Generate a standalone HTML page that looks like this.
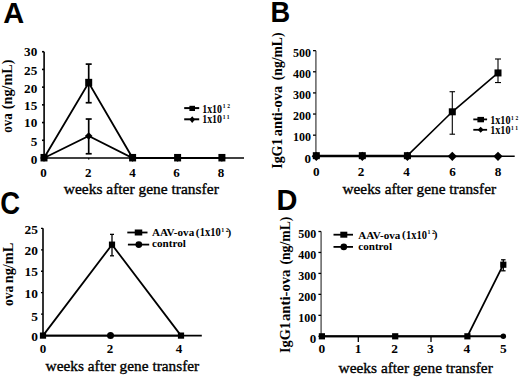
<!DOCTYPE html>
<html><head><meta charset="utf-8"><style>
html,body{margin:0;padding:0;background:#fff;width:520px;height:377px;overflow:hidden}
svg{display:block}
text{fill:#000}
</style></head><body>
<svg width="520" height="377" viewBox="0 0 520 377">
<rect width="520" height="377" fill="#fff"/>
<text id="tA" x="3.30" y="22.60" font-family='"Liberation Sans", sans-serif' font-size="29" font-weight="bold" text-anchor="start">A</text>
<line x1="44.10" y1="51.71" x2="44.10" y2="158.80" stroke="#000" stroke-width="1.6"/>
<line x1="42.00" y1="158.00" x2="44.10" y2="158.00" stroke="#000" stroke-width="1.6"/>
<text x="37.30" y="163.65" font-family='"Liberation Serif", serif' font-size="13.2" font-weight="bold" text-anchor="end">0</text>
<line x1="42.00" y1="140.28" x2="44.10" y2="140.28" stroke="#000" stroke-width="1.6"/>
<text x="37.30" y="145.75" font-family='"Liberation Serif", serif' font-size="13.2" font-weight="bold" text-anchor="end">5</text>
<line x1="42.00" y1="122.57" x2="44.10" y2="122.57" stroke="#000" stroke-width="1.6"/>
<text x="37.30" y="127.35" font-family='"Liberation Serif", serif' font-size="13.2" font-weight="bold" text-anchor="end">10</text>
<line x1="42.00" y1="104.85" x2="44.10" y2="104.85" stroke="#000" stroke-width="1.6"/>
<text x="37.30" y="110.05" font-family='"Liberation Serif", serif' font-size="13.2" font-weight="bold" text-anchor="end">15</text>
<line x1="42.00" y1="87.14" x2="44.10" y2="87.14" stroke="#000" stroke-width="1.6"/>
<text x="37.30" y="92.75" font-family='"Liberation Serif", serif' font-size="13.2" font-weight="bold" text-anchor="end">20</text>
<line x1="42.00" y1="69.42" x2="44.10" y2="69.42" stroke="#000" stroke-width="1.6"/>
<text x="37.30" y="74.55" font-family='"Liberation Serif", serif' font-size="13.2" font-weight="bold" text-anchor="end">25</text>
<line x1="42.00" y1="51.71" x2="44.10" y2="51.71" stroke="#000" stroke-width="1.6"/>
<text x="37.30" y="56.35" font-family='"Liberation Serif", serif' font-size="13.2" font-weight="bold" text-anchor="end">30</text>
<line x1="44.10" y1="158.00" x2="244.00" y2="158.00" stroke="#000" stroke-width="1.5"/>
<line x1="44.00" y1="158.00" x2="44.00" y2="159.50" stroke="#000" stroke-width="1.3"/>
<text x="43.60" y="176.50" font-family='"Liberation Serif", serif' font-size="13" font-weight="bold" text-anchor="middle">0</text>
<line x1="88.70" y1="158.00" x2="88.70" y2="159.50" stroke="#000" stroke-width="1.3"/>
<text x="88.30" y="176.50" font-family='"Liberation Serif", serif' font-size="13" font-weight="bold" text-anchor="middle">2</text>
<line x1="132.60" y1="158.00" x2="132.60" y2="159.50" stroke="#000" stroke-width="1.3"/>
<text x="132.40" y="176.50" font-family='"Liberation Serif", serif' font-size="13" font-weight="bold" text-anchor="middle">4</text>
<line x1="177.60" y1="158.00" x2="177.60" y2="159.50" stroke="#000" stroke-width="1.3"/>
<text x="176.40" y="176.50" font-family='"Liberation Serif", serif' font-size="13" font-weight="bold" text-anchor="middle">6</text>
<line x1="221.90" y1="158.00" x2="221.90" y2="159.50" stroke="#000" stroke-width="1.3"/>
<text x="221.10" y="176.50" font-family='"Liberation Serif", serif' font-size="13" font-weight="bold" text-anchor="middle">8</text>
<text id="tAy0" x="0.00" y="0.00" font-family='"Liberation Serif", serif' font-size="13.8" font-weight="bold" text-anchor="start" textLength="19.44" lengthAdjust="spacingAndGlyphs" transform="translate(12.30 132.80) rotate(-90)">ova</text>
<text id="tAy1" x="0.00" y="0.00" font-family='"Liberation Serif", serif' font-size="13.8" font-weight="bold" text-anchor="start" textLength="49.61" lengthAdjust="spacingAndGlyphs" transform="translate(12.30 109.20) rotate(-90)">(ng/mL)</text>
<text id="tAx" x="63.80" y="193.50" font-family='"Liberation Serif", serif' font-size="15.2" font-weight="normal" text-anchor="start" textLength="155.00" lengthAdjust="spacingAndGlyphs" stroke="#000" stroke-width="0.35">weeks after gene transfer</text>
<line x1="88.70" y1="153.75" x2="88.70" y2="119.03" stroke="#000" stroke-width="1.7"/>
<line x1="85.70" y1="153.75" x2="91.70" y2="153.75" stroke="#000" stroke-width="1.7"/>
<line x1="85.70" y1="119.03" x2="91.70" y2="119.03" stroke="#000" stroke-width="1.7"/>
<polyline points="44.00,158.00 88.70,136.03 132.60,158.00 177.60,158.00 221.90,158.00" fill="none" stroke="#000" stroke-width="1.8" stroke-linejoin="miter"/>
<polygon points="44.00,154.20 47.80,158.00 44.00,161.80 40.20,158.00" fill="#000"/>
<polygon points="88.70,132.23 92.50,136.03 88.70,139.83 84.90,136.03" fill="#000"/>
<polygon points="132.60,154.20 136.40,158.00 132.60,161.80 128.80,158.00" fill="#000"/>
<polygon points="177.60,154.20 181.40,158.00 177.60,161.80 173.80,158.00" fill="#000"/>
<polygon points="221.90,154.20 225.70,158.00 221.90,161.80 218.10,158.00" fill="#000"/>
<line x1="88.70" y1="102.73" x2="88.70" y2="64.11" stroke="#000" stroke-width="1.7"/>
<line x1="85.70" y1="102.73" x2="91.70" y2="102.73" stroke="#000" stroke-width="1.7"/>
<line x1="85.70" y1="64.11" x2="91.70" y2="64.11" stroke="#000" stroke-width="1.7"/>
<polyline points="44.00,158.00 88.70,82.89 132.60,158.00 177.60,158.00 221.90,158.00" fill="none" stroke="#000" stroke-width="1.8" stroke-linejoin="miter"/>
<rect x="40.50" y="153.95" width="7" height="7.5" fill="#000"/>
<rect x="85.20" y="78.84" width="7" height="7.5" fill="#000"/>
<rect x="129.10" y="153.95" width="7" height="7.5" fill="#000"/>
<rect x="174.10" y="153.95" width="7" height="7.5" fill="#000"/>
<rect x="218.40" y="153.95" width="7" height="7.5" fill="#000"/>
<line x1="184.20" y1="108.10" x2="199.20" y2="108.10" stroke="#000" stroke-width="2.0"/>
<rect x="189.40" y="105.80" width="5.6" height="5.2" fill="#000"/>
<line x1="184.20" y1="119.30" x2="199.20" y2="119.30" stroke="#000" stroke-width="2.0"/>
<polygon points="192.20,116.30 195.00,119.60 192.20,122.90 189.40,119.60" fill="#000"/>
<text id="tAl1" x="202.20" y="112.50" font-family='"Liberation Serif", serif' font-size="11.8" font-weight="bold" text-anchor="start" textLength="19.80" lengthAdjust="spacingAndGlyphs">1x10</text>
<text id="tAl2" x="202.20" y="123.20" font-family='"Liberation Serif", serif' font-size="11.8" font-weight="bold" text-anchor="start" textLength="19.80" lengthAdjust="spacingAndGlyphs">1x10</text>
<text x="222.70" y="108.40" font-family='"Liberation Serif", serif' font-size="5.5" font-weight="bold" text-anchor="start">1<tspan dx="1.7">2</tspan></text>
<text x="222.70" y="119.10" font-family='"Liberation Serif", serif' font-size="5.5" font-weight="bold" text-anchor="start">1<tspan dx="1.7">1</tspan></text>
<text id="tB" x="0.00" y="0.00" font-family='"Liberation Sans", sans-serif' font-size="29" font-weight="bold" text-anchor="start" transform="translate(270.50 21.50) scale(0.94 1)">B</text>
<line x1="315.90" y1="50.65" x2="315.90" y2="157.05" stroke="#555" stroke-width="1.4"/>
<line x1="313.00" y1="156.30" x2="315.90" y2="156.30" stroke="#000" stroke-width="1.3"/>
<text x="311.00" y="162.60" font-family='"Liberation Serif", serif' font-size="13" font-weight="bold" text-anchor="end">0</text>
<line x1="313.00" y1="135.17" x2="315.90" y2="135.17" stroke="#000" stroke-width="1.3"/>
<text x="311.00" y="141.47" font-family='"Liberation Serif", serif' font-size="13" font-weight="bold" text-anchor="end" textLength="18.00" lengthAdjust="spacingAndGlyphs">100</text>
<line x1="313.00" y1="114.04" x2="315.90" y2="114.04" stroke="#000" stroke-width="1.3"/>
<text x="311.00" y="120.34" font-family='"Liberation Serif", serif' font-size="13" font-weight="bold" text-anchor="end" textLength="18.00" lengthAdjust="spacingAndGlyphs">200</text>
<line x1="313.00" y1="92.91" x2="315.90" y2="92.91" stroke="#000" stroke-width="1.3"/>
<text x="311.00" y="99.21" font-family='"Liberation Serif", serif' font-size="13" font-weight="bold" text-anchor="end" textLength="18.00" lengthAdjust="spacingAndGlyphs">300</text>
<line x1="313.00" y1="71.78" x2="315.90" y2="71.78" stroke="#000" stroke-width="1.3"/>
<text x="311.00" y="78.08" font-family='"Liberation Serif", serif' font-size="13" font-weight="bold" text-anchor="end" textLength="18.00" lengthAdjust="spacingAndGlyphs">400</text>
<line x1="313.00" y1="50.65" x2="315.90" y2="50.65" stroke="#000" stroke-width="1.3"/>
<text x="311.00" y="56.95" font-family='"Liberation Serif", serif' font-size="13" font-weight="bold" text-anchor="end" textLength="18.00" lengthAdjust="spacingAndGlyphs">500</text>
<line x1="315.60" y1="156.30" x2="514.70" y2="156.30" stroke="#000" stroke-width="1.4"/>
<text x="316.30" y="175.90" font-family='"Liberation Serif", serif' font-size="13.2" font-weight="bold" text-anchor="middle">0</text>
<text x="361.00" y="175.90" font-family='"Liberation Serif", serif' font-size="13.2" font-weight="bold" text-anchor="middle">2</text>
<text x="406.50" y="175.90" font-family='"Liberation Serif", serif' font-size="13.2" font-weight="bold" text-anchor="middle">4</text>
<text x="452.60" y="175.90" font-family='"Liberation Serif", serif' font-size="13.2" font-weight="bold" text-anchor="middle">6</text>
<text x="498.00" y="175.90" font-family='"Liberation Serif", serif' font-size="13.2" font-weight="bold" text-anchor="middle">8</text>
<text id="tBy0" x="0.00" y="0.00" font-family='"Liberation Serif", serif' font-size="13.8" font-weight="bold" text-anchor="start" textLength="30.25" lengthAdjust="spacingAndGlyphs" transform="translate(281.50 168.80) rotate(-90)">IgG1</text>
<text id="tBy1" x="0.00" y="0.00" font-family='"Liberation Serif", serif' font-size="13.8" font-weight="bold" text-anchor="start" textLength="50.42" lengthAdjust="spacingAndGlyphs" transform="translate(281.50 136.20) rotate(-90)">anti-ova</text>
<text id="tBy2" x="0.00" y="0.00" font-family='"Liberation Serif", serif' font-size="13.8" font-weight="bold" text-anchor="start" textLength="47.62" lengthAdjust="spacingAndGlyphs" transform="translate(281.50 80.20) rotate(-90)">(ng/mL)</text>
<text id="tBx" x="342.50" y="193.80" font-family='"Liberation Serif", serif' font-size="15.2" font-weight="normal" text-anchor="start" textLength="153.60" lengthAdjust="spacingAndGlyphs" stroke="#000" stroke-width="0.35">weeks after gene transfer</text>
<polyline points="316.30,156.30 362.30,156.30 407.40,156.30 452.30,156.30 498.00,156.30" fill="none" stroke="#000" stroke-width="1.8" stroke-linejoin="miter"/>
<polygon points="316.30,151.70 320.90,156.30 316.30,160.90 311.70,156.30" fill="#000"/>
<polygon points="362.30,151.70 366.90,156.30 362.30,160.90 357.70,156.30" fill="#000"/>
<polygon points="407.40,151.70 412.00,156.30 407.40,160.90 402.80,156.30" fill="#000"/>
<polygon points="452.30,151.70 456.90,156.30 452.30,160.90 447.70,156.30" fill="#000"/>
<polygon points="498.00,151.70 502.60,156.30 498.00,160.90 493.40,156.30" fill="#000"/>
<line x1="452.30" y1="134.20" x2="452.30" y2="91.71" stroke="#000" stroke-width="1.1"/>
<line x1="449.55" y1="134.20" x2="455.05" y2="134.20" stroke="#000" stroke-width="1.1"/>
<line x1="449.55" y1="91.71" x2="455.05" y2="91.71" stroke="#000" stroke-width="1.1"/>
<line x1="498.00" y1="82.56" x2="498.00" y2="59.00" stroke="#000" stroke-width="1.1"/>
<line x1="495.00" y1="82.56" x2="501.00" y2="82.56" stroke="#000" stroke-width="1.1"/>
<line x1="495.00" y1="59.00" x2="501.00" y2="59.00" stroke="#000" stroke-width="1.1"/>
<polyline points="316.30,155.67 362.30,155.67 407.40,155.67 452.30,111.80 498.00,72.94" fill="none" stroke="#000" stroke-width="1.6" stroke-linejoin="miter"/>
<rect x="312.80" y="152.17" width="7" height="7" fill="#000"/>
<rect x="358.80" y="152.17" width="7" height="7" fill="#000"/>
<rect x="403.90" y="152.17" width="7" height="7" fill="#000"/>
<rect x="448.80" y="108.30" width="7" height="7" fill="#000"/>
<rect x="494.50" y="69.44" width="7" height="7" fill="#000"/>
<line x1="473.30" y1="119.40" x2="487.10" y2="119.40" stroke="#000" stroke-width="1.8"/>
<rect x="477.40" y="116.90" width="6.6" height="5.4" fill="#000"/>
<line x1="473.30" y1="129.80" x2="487.10" y2="129.80" stroke="#000" stroke-width="1.8"/>
<polygon points="480.70,126.80 483.70,129.80 480.70,132.80 477.70,129.80" fill="#000"/>
<text id="tBl1" x="490.20" y="123.50" font-family='"Liberation Serif", serif' font-size="11.8" font-weight="bold" text-anchor="start" textLength="20.30" lengthAdjust="spacingAndGlyphs">1x10</text>
<text id="tBl2" x="490.20" y="133.90" font-family='"Liberation Serif", serif' font-size="11.8" font-weight="bold" text-anchor="start" textLength="20.30" lengthAdjust="spacingAndGlyphs">1x10</text>
<text x="511.00" y="119.50" font-family='"Liberation Serif", serif' font-size="5.5" font-weight="bold" text-anchor="start">1<tspan dx="1.7">2</tspan></text>
<text x="511.00" y="129.90" font-family='"Liberation Serif", serif' font-size="5.5" font-weight="bold" text-anchor="start">1<tspan dx="1.7">1</tspan></text>
<text id="tC" x="0.00" y="0.00" font-family='"Liberation Sans", sans-serif' font-size="30.5" font-weight="bold" text-anchor="start" transform="translate(0.30 213.50) scale(0.9 1)">C</text>
<line x1="43.00" y1="228.35" x2="43.00" y2="336.35" stroke="#000" stroke-width="1.6"/>
<line x1="41.00" y1="335.60" x2="43.00" y2="335.60" stroke="#000" stroke-width="1.3"/>
<text x="38.00" y="341.20" font-family='"Liberation Serif", serif' font-size="13.4" font-weight="bold" text-anchor="end">0</text>
<line x1="41.00" y1="314.15" x2="43.00" y2="314.15" stroke="#000" stroke-width="1.3"/>
<text x="38.00" y="320.50" font-family='"Liberation Serif", serif' font-size="13.4" font-weight="bold" text-anchor="end">5</text>
<line x1="41.00" y1="292.70" x2="43.00" y2="292.70" stroke="#000" stroke-width="1.3"/>
<text x="38.00" y="298.40" font-family='"Liberation Serif", serif' font-size="13.4" font-weight="bold" text-anchor="end">10</text>
<line x1="41.00" y1="271.25" x2="43.00" y2="271.25" stroke="#000" stroke-width="1.3"/>
<text x="38.00" y="276.40" font-family='"Liberation Serif", serif' font-size="13.4" font-weight="bold" text-anchor="end">15</text>
<line x1="41.00" y1="249.80" x2="43.00" y2="249.80" stroke="#000" stroke-width="1.3"/>
<text x="38.00" y="254.90" font-family='"Liberation Serif", serif' font-size="13.4" font-weight="bold" text-anchor="end">20</text>
<line x1="41.00" y1="228.35" x2="43.00" y2="228.35" stroke="#000" stroke-width="1.3"/>
<text x="38.00" y="234.00" font-family='"Liberation Serif", serif' font-size="13.4" font-weight="bold" text-anchor="end">25</text>
<line x1="43.00" y1="335.60" x2="201.80" y2="335.60" stroke="#000" stroke-width="1.6"/>
<text x="43.00" y="352.80" font-family='"Liberation Serif", serif' font-size="13" font-weight="bold" text-anchor="middle">0</text>
<text x="110.00" y="352.80" font-family='"Liberation Serif", serif' font-size="13" font-weight="bold" text-anchor="middle">2</text>
<text x="179.00" y="352.80" font-family='"Liberation Serif", serif' font-size="13" font-weight="bold" text-anchor="middle">4</text>
<text id="tCy0" x="0.00" y="0.00" font-family='"Liberation Serif", serif' font-size="13.8" font-weight="bold" text-anchor="start" textLength="20.28" lengthAdjust="spacingAndGlyphs" transform="translate(12.90 306.00) rotate(-90)">ova</text>
<text id="tCy1" x="0.00" y="0.00" font-family='"Liberation Serif", serif' font-size="13.8" font-weight="bold" text-anchor="start" textLength="40.43" lengthAdjust="spacingAndGlyphs" transform="translate(12.90 283.20) rotate(-90)">ng/mL</text>
<text id="tCx" x="45.60" y="370.50" font-family='"Liberation Serif", serif' font-size="15.2" font-weight="normal" text-anchor="start" textLength="153.60" lengthAdjust="spacingAndGlyphs" stroke="#000" stroke-width="0.35">weeks after gene transfer</text>
<polyline points="43.00,335.60 110.50,335.60 181.00,335.60" fill="none" stroke="#000" stroke-width="1.8" stroke-linejoin="miter"/>
<circle cx="110.50" cy="335.60" r="3.5" fill="#000"/>
<line x1="112.00" y1="255.81" x2="112.00" y2="234.36" stroke="#000" stroke-width="1.3"/>
<line x1="110.00" y1="255.81" x2="114.00" y2="255.81" stroke="#000" stroke-width="1.3"/>
<line x1="110.00" y1="234.36" x2="114.00" y2="234.36" stroke="#000" stroke-width="1.3"/>
<polyline points="43.00,335.60 112.00,244.65 181.00,335.60" fill="none" stroke="#000" stroke-width="1.8" stroke-linejoin="miter"/>
<rect x="39.90" y="332.50" width="6.2" height="6.2" fill="#000"/>
<rect x="108.90" y="241.55" width="6.2" height="6.2" fill="#000"/>
<rect x="177.90" y="332.50" width="6.2" height="6.2" fill="#000"/>
<line x1="127.30" y1="232.50" x2="147.50" y2="232.50" stroke="#000" stroke-width="1.8"/>
<rect x="134.75" y="229.50" width="7.5" height="6" fill="#000"/>
<line x1="127.90" y1="244.60" x2="149.20" y2="244.60" stroke="#000" stroke-width="1.8"/>
<circle cx="138.80" cy="244.60" r="3.4" fill="#000"/>
<text id="tCl1" x="152.00" y="236.30" font-family='"Liberation Serif", serif' font-size="11.2" font-weight="bold" text-anchor="start" textLength="42.20" lengthAdjust="spacingAndGlyphs">AAV-ova</text>
<text id="tClp" x="195.80" y="235.90" font-family='"Liberation Serif", serif' font-size="11.2" font-weight="bold" text-anchor="start">(</text>
<text id="tClx" x="199.70" y="236.00" font-family='"Liberation Serif", serif' font-size="11.6" font-weight="bold" text-anchor="start" textLength="21.00" lengthAdjust="spacingAndGlyphs">1x10</text>
<text x="221.20" y="231.60" font-family='"Liberation Serif", serif' font-size="6" font-weight="bold" text-anchor="start">1<tspan dx="1.6">2</tspan></text>
<text id="tClq" x="227.60" y="235.90" font-family='"Liberation Serif", serif' font-size="11.2" font-weight="bold" text-anchor="start">)</text>
<text id="tCl2" x="152.00" y="247.40" font-family='"Liberation Serif", serif' font-size="11.2" font-weight="bold" text-anchor="start" textLength="33.80" lengthAdjust="spacingAndGlyphs">control</text>
<text id="tD" x="276.60" y="210.20" font-family='"Liberation Sans", sans-serif' font-size="29" font-weight="bold" text-anchor="start">D</text>
<line x1="321.10" y1="231.50" x2="321.10" y2="337.05" stroke="#555" stroke-width="1.4"/>
<line x1="318.40" y1="336.30" x2="321.10" y2="336.30" stroke="#000" stroke-width="1.3"/>
<text x="316.20" y="342.60" font-family='"Liberation Serif", serif' font-size="13" font-weight="bold" text-anchor="end">0</text>
<line x1="318.40" y1="315.34" x2="321.10" y2="315.34" stroke="#000" stroke-width="1.3"/>
<text x="316.20" y="321.64" font-family='"Liberation Serif", serif' font-size="13" font-weight="bold" text-anchor="end" textLength="18.00" lengthAdjust="spacingAndGlyphs">100</text>
<line x1="318.40" y1="294.38" x2="321.10" y2="294.38" stroke="#000" stroke-width="1.3"/>
<text x="316.20" y="300.68" font-family='"Liberation Serif", serif' font-size="13" font-weight="bold" text-anchor="end" textLength="18.00" lengthAdjust="spacingAndGlyphs">200</text>
<line x1="318.40" y1="273.42" x2="321.10" y2="273.42" stroke="#000" stroke-width="1.3"/>
<text x="316.20" y="279.72" font-family='"Liberation Serif", serif' font-size="13" font-weight="bold" text-anchor="end" textLength="18.00" lengthAdjust="spacingAndGlyphs">300</text>
<line x1="318.40" y1="252.46" x2="321.10" y2="252.46" stroke="#000" stroke-width="1.3"/>
<text x="316.20" y="258.76" font-family='"Liberation Serif", serif' font-size="13" font-weight="bold" text-anchor="end" textLength="18.00" lengthAdjust="spacingAndGlyphs">400</text>
<line x1="318.40" y1="231.50" x2="321.10" y2="231.50" stroke="#000" stroke-width="1.3"/>
<text x="316.20" y="237.80" font-family='"Liberation Serif", serif' font-size="13" font-weight="bold" text-anchor="end" textLength="18.00" lengthAdjust="spacingAndGlyphs">500</text>
<line x1="321.30" y1="336.30" x2="503.30" y2="336.30" stroke="#000" stroke-width="1.6"/>
<text x="321.80" y="353.00" font-family='"Liberation Serif", serif' font-size="13.4" font-weight="bold" text-anchor="middle">0</text>
<line x1="358.30" y1="336.30" x2="358.30" y2="342.10" stroke="#000" stroke-width="1.3"/>
<text x="358.10" y="353.00" font-family='"Liberation Serif", serif' font-size="13.4" font-weight="bold" text-anchor="middle">1</text>
<text x="394.60" y="353.00" font-family='"Liberation Serif", serif' font-size="13.4" font-weight="bold" text-anchor="middle">2</text>
<line x1="431.00" y1="336.30" x2="431.00" y2="342.10" stroke="#000" stroke-width="1.3"/>
<text x="430.40" y="353.00" font-family='"Liberation Serif", serif' font-size="13.4" font-weight="bold" text-anchor="middle">3</text>
<text x="466.90" y="353.00" font-family='"Liberation Serif", serif' font-size="13.4" font-weight="bold" text-anchor="middle">4</text>
<text x="503.40" y="353.00" font-family='"Liberation Serif", serif' font-size="13.4" font-weight="bold" text-anchor="middle">5</text>
<text id="tDy0" x="0.00" y="0.00" font-family='"Liberation Serif", serif' font-size="13.8" font-weight="bold" text-anchor="start" textLength="30.91" lengthAdjust="spacingAndGlyphs" transform="translate(290.00 353.00) rotate(-90)">IgG1</text>
<text id="tDy1" x="0.00" y="0.00" font-family='"Liberation Serif", serif' font-size="13.8" font-weight="bold" text-anchor="start" textLength="51.45" lengthAdjust="spacingAndGlyphs" transform="translate(290.00 321.00) rotate(-90)">anti-ova</text>
<text id="tDy2" x="0.00" y="0.00" font-family='"Liberation Serif", serif' font-size="13.8" font-weight="bold" text-anchor="start" textLength="48.02" lengthAdjust="spacingAndGlyphs" transform="translate(290.00 264.60) rotate(-90)">(ng/mL)</text>
<text id="tDx" x="338.60" y="373.20" font-family='"Liberation Serif", serif' font-size="15.2" font-weight="normal" text-anchor="start" textLength="154.20" lengthAdjust="spacingAndGlyphs" stroke="#000" stroke-width="0.35">weeks after gene transfer</text>
<polyline points="321.90,336.30 503.30,336.30" fill="none" stroke="#000" stroke-width="1.8" stroke-linejoin="miter"/>
<circle cx="503.30" cy="336.20" r="2.75" fill="#000"/>
<line x1="503.30" y1="270.80" x2="503.30" y2="259.80" stroke="#000" stroke-width="1.3"/>
<line x1="501.05" y1="270.80" x2="505.55" y2="270.80" stroke="#000" stroke-width="1.3"/>
<line x1="501.05" y1="259.80" x2="505.55" y2="259.80" stroke="#000" stroke-width="1.3"/>
<polyline points="321.90,336.30 395.20,336.30 467.40,336.30 503.30,264.70" fill="none" stroke="#000" stroke-width="1.8" stroke-linejoin="miter"/>
<rect x="318.80" y="333.20" width="6.2" height="6.2" fill="#000"/>
<rect x="392.10" y="333.20" width="6.2" height="6.2" fill="#000"/>
<rect x="464.30" y="333.20" width="6.2" height="6.2" fill="#000"/>
<rect x="500.20" y="261.60" width="6.2" height="6.2" fill="#000"/>
<line x1="333.50" y1="234.70" x2="353.00" y2="234.70" stroke="#000" stroke-width="1.8"/>
<rect x="340.30" y="231.70" width="7" height="6" fill="#000"/>
<line x1="333.50" y1="246.90" x2="353.00" y2="246.90" stroke="#000" stroke-width="1.8"/>
<circle cx="343.80" cy="246.90" r="3.3" fill="#000"/>
<text id="tDl1" x="358.20" y="238.80" font-family='"Liberation Serif", serif' font-size="11.2" font-weight="bold" text-anchor="start" textLength="42.20" lengthAdjust="spacingAndGlyphs">AAV-ova</text>
<text id="tDlp" x="402.00" y="238.40" font-family='"Liberation Serif", serif' font-size="11.2" font-weight="bold" text-anchor="start">(</text>
<text id="tDlx" x="405.90" y="238.50" font-family='"Liberation Serif", serif' font-size="11.6" font-weight="bold" text-anchor="start" textLength="21.00" lengthAdjust="spacingAndGlyphs">1x10</text>
<text x="427.40" y="234.10" font-family='"Liberation Serif", serif' font-size="6" font-weight="bold" text-anchor="start">1<tspan dx="1.6">2</tspan></text>
<text id="tDlq" x="433.80" y="238.40" font-family='"Liberation Serif", serif' font-size="11.2" font-weight="bold" text-anchor="start">)</text>
<text id="tDl2" x="358.20" y="249.90" font-family='"Liberation Serif", serif' font-size="11.2" font-weight="bold" text-anchor="start" textLength="33.80" lengthAdjust="spacingAndGlyphs">control</text>
</svg>
</body></html>
